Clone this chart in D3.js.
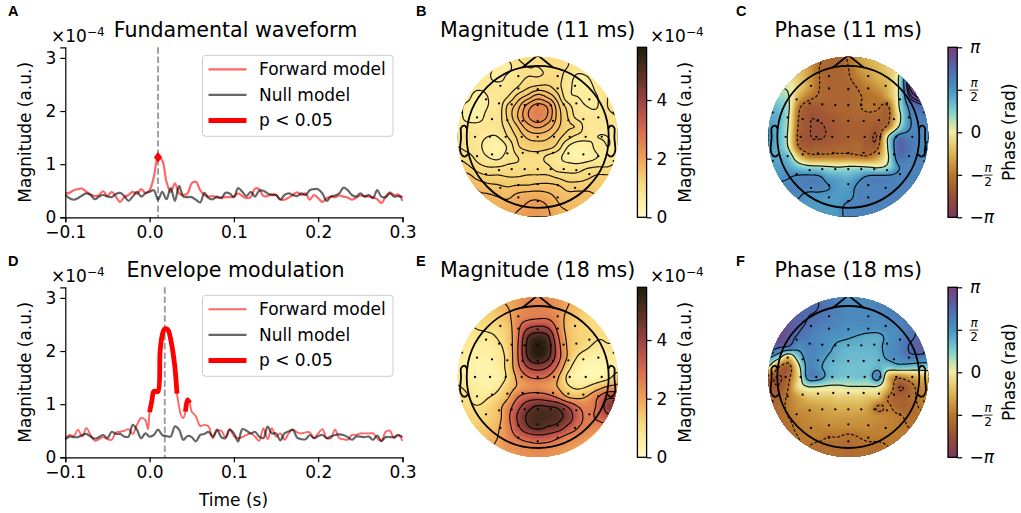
<!DOCTYPE html>
<html><head><meta charset="utf-8">
<script src="https://cdn.jsdelivr.net/npm/d3@7"></script>
<style>html,body{margin:0;padding:0;background:#fff}svg{display:block}text{font-family:"DejaVu Sans",sans-serif;fill:#000}</style>
</head><body><svg id="c" width="1021" height="513"></svg>
<script>
// ---------- line data (x 1e-4), t = -0.1 .. 0.3 step 0.005 unless noted
const forwardA=[.45,.46,.51,.53,.54,.48,.43,.40,.42,.49,.40,.48,.39,.29,.38,.42,.48,.44,.53,.46,.51,.76,1.13,1.07,.67,.48,.64,.45,.42,.45,.64,.67,.51,.42,.39,.40,.37,.37,.38,.38,.39,.45,.40,.36,.38,.54,.53,.40,.40,.43,.42,.34,.33,.37,.42,.47,.42,.45,.33,.42,.36,.29,.36,.39,.38,.41,.39,.37,.33,.37,.41,.40,.39,.38,.34,.27,.39,.47,.42,.43,.31];
const nullA=[.42,.36,.33,.36,.41,.45,.42,.34,.39,.42,.39,.38,.44,.46,.40,.31,.39,.48,.39,.45,.48,.51,.33,.48,.34,.55,.31,.59,.39,.38,.38,.33,.28,.46,.36,.34,.39,.36,.46,.45,.38,.55,.48,.40,.48,.39,.50,.50,.45,.42,.42,.33,.42,.45,.42,.40,.45,.42,.51,.53,.53,.45,.31,.39,.41,.45,.56,.51,.42,.39,.45,.39,.42,.36,.51,.39,.38,.45,.39,.40,.38];
const forwardDBefore=[.36,.42,.40,.52,.39,.55,.42,.31,.34,.38,.34,.33,.47,.48,.50,.53,.44,.61,.74,.70]; // t -0.1 .. -0.005
const forwardDPeak=[.85,1.05,1.24,1.24,1.24,2.0,2.3,2.41,2.42,2.38,2.22,2.0,1.7,1.2,.95,.78,.74,.86,1.08,1.02]; // t 0 .. 0.0475 step 0.0025
const forwardDAfter=[.86,.77,.59,.61,.58,.36,.50,.50,.38,.53,.40,.36,.38,.42,.45,.39,.31,.55,.34,.55,.39,.45,.33,.45,.52,.47,.45,.47,.47,.36,.45,.53,.36,.36,.52,.36,.34,.33,.42,.42,.45,.45,.45,.45,.36,.30,.48,.50,.36,.42,.31]; // t .05 .. .3
const nullD=[.34,.39,.38,.38,.42,.44,.39,.35,.38,.42,.36,.48,.44,.44,.39,.39,.61,.52,.36,.45,.39,.42,.52,.42,.40,.39,.58,.52,.33,.40,.38,.30,.42,.44,.48,.39,.52,.38,.36,.52,.45,.30,.53,.50,.45,.48,.39,.36,.58,.45,.45,.32,.45,.49,.52,.37,.34,.34,.42,.36,.40,.42,.36,.39,.42,.43,.42,.38,.33,.39,.39,.38,.39,.33,.41,.31,.38,.38,.38,.42,.38];
const sigA=[[.0085,.0115]], sigD=[[0,.0325],[.0425,.0475]];
const peakA=0.01, peakD=0.018;
const xTicks=[-.1,0,.1,.2,.3], yTicks=[0,1,2,3];
// ---------- scalp maps: rows front to back, columns left to right
const magB=[
[.9,.9,.9,.9,.8,.75,1.0,1.1,1.1,1.1,1.1,1.0,1.0,.9,.9,.9,.9],
[.9,.9,.9,.8,.65,.6,.9,1.0,1.0,1.05,1.1,1.0,.85,.9,.9,.9,.9],
[.9,.9,.85,.75,.6,.75,.9,1.0,1.0,1.05,1.1,.85,.65,.7,.9,.9,.9],
[.9,.9,.8,.8,.8,.8,1.0,1.2,1.3,1.3,1.1,.8,.6,.6,.8,1.0,1.0],
[.8,.8,.5,.7,.8,1.0,1.35,1.6,1.9,1.7,1.35,.8,.7,.65,.7,1.0,1.1],
[.8,.6,.5,.7,.8,1.3,1.65,2.2,2.5,2.3,1.6,1.15,.8,.7,.7,1.0,1.1],
[.8,.6,.55,.8,.85,1.3,1.75,2.3,2.6,2.3,1.65,1.25,.9,.8,.8,.9,1.0],
[.8,.8,.8,.8,.85,1.15,1.5,1.9,2.1,1.9,1.55,1.3,1.2,.8,.8,.8,.9],
[.9,.9,.8,.7,.7,1.0,1.3,1.55,1.6,1.55,1.35,1.1,.9,.8,.7,.7,.8],
[1.0,.9,.8,.55,.45,.75,1.2,1.35,1.4,1.35,1.15,.7,.5,.55,.8,.7,.8],
[1.2,1.1,.9,.7,.6,.85,1.0,1.1,1.1,.95,.8,.55,.4,.5,.7,.8,.9],
[1.4,1.3,1.1,1.0,1.0,1.05,1.05,1.05,1.1,1.05,.85,.85,.85,.95,1.0,1.0,1.1],
[1.6,1.6,1.4,1.3,1.3,1.25,1.25,1.3,1.3,1.3,1.2,1.1,1.1,1.2,1.3,1.3,1.3],
[1.8,1.8,1.7,1.6,1.55,1.5,1.55,1.55,1.6,1.6,1.55,1.4,1.4,1.4,1.4,1.4,1.4],
[1.9,1.9,1.8,1.8,1.75,1.7,1.85,1.95,1.95,1.85,1.7,1.6,1.6,1.6,1.5,1.5,1.5],
[1.9,1.9,1.9,1.85,1.85,1.9,2.0,2.1,2.2,2.05,1.8,1.7,1.65,1.6,1.6,1.6,1.6],
[1.9,1.9,1.9,1.9,1.9,2.0,2.1,2.2,2.2,2.1,1.9,1.8,1.7,1.6,1.6,1.6,1.6]];
const magE=[
[1.5,1.6,1.7,1.8,1.9,2.0,2.2,2.4,2.5,2.4,2.2,2.0,1.8,1.6,1.5,1.5,1.5],
[1.3,1.3,1.4,1.5,1.7,1.9,2.2,2.6,2.6,2.5,2.3,1.9,1.6,1.4,1.3,1.3,1.3],
[1.1,1.1,1.2,1.3,1.4,1.7,2.4,2.6,2.7,2.7,2.3,1.7,1.4,1.2,1.1,1.1,1.1],
[.9,.9,1.0,1.1,1.2,1.5,2.6,3.6,3.9,3.7,2.6,1.6,1.3,1.2,1.1,1.0,1.0],
[.8,.8,.8,.8,1.0,1.4,2.7,4.7,5.3,4.9,3.0,1.7,1.3,1.2,1.0,1.0,1.0],
[.7,.7,.6,.6,.8,1.3,2.8,5.0,5.9,5.3,3.3,1.8,1.3,1.0,.8,.9,.9],
[.7,.6,.5,.5,.7,1.2,2.8,4.8,5.6,5.0,3.3,1.8,.9,.6,.5,.7,.8],
[.7,.5,.4,.4,.6,1.2,2.6,3.8,4.2,3.8,2.7,1.3,.5,.3,.3,.5,.7],
[.8,.6,.4,.4,.5,1.1,2.1,2.8,3.0,2.8,2.0,.8,.4,.3,.4,.7,1.3],
[1.0,.8,.6,.5,.8,1.4,2.0,2.3,2.4,2.2,1.9,1.1,.8,1.0,1.5,2.0,2.2],
[1.3,1.0,.7,.9,1.2,1.8,2.8,3.3,3.4,3.2,2.7,1.9,1.7,2.0,2.8,3.6,3.6],
[1.3,1.1,1.0,1.2,1.6,2.4,3.5,4.4,4.9,4.8,4.6,3.8,2.9,2.6,3.0,4.2,4.4],
[1.3,1.3,1.2,1.3,1.6,2.6,3.9,4.9,5.2,5.2,5.0,4.4,3.2,2.7,3.0,3.5,3.7],
[1.3,1.3,1.4,1.5,1.8,2.5,3.6,4.6,5.0,4.7,4.4,3.6,2.9,2.6,2.5,2.6,2.6],
[1.4,1.4,1.5,1.7,1.9,2.4,2.9,3.3,3.5,3.4,3.0,2.6,2.4,2.2,2.1,2.1,2.1],
[1.5,1.5,1.6,1.8,2.0,2.3,2.4,2.5,2.6,2.5,2.4,2.2,2.1,2.0,1.9,1.9,1.9],
[1.6,1.6,1.7,1.9,2.0,2.2,2.3,2.3,2.4,2.3,2.2,2.1,2.0,1.9,1.8,1.8,1.8]];
const phaseC=[
[-.6,-.6,-.6,-.8,-1.1,-1.6,-1.8,-1.8,-1.7,-1.1,-.8,-.6,-.4,-.3,.5,1.2,1.5],
[-.3,-.3,-.4,-.6,-1.0,-1.7,-1.9,-1.9,-1.75,-1.2,-.9,-.7,-.4,-.2,1.8,2.4,2.6],
[-.2,-.2,-.3,-.5,-1.0,-1.7,-1.9,-1.9,-1.8,-1.4,-1.1,-.8,-.6,.3,2.7,3.0,3.1],
[.3,.3,.2,-.4,-1.0,-1.7,-1.9,-1.9,-1.9,-1.7,-1.4,-1.1,-.7,.3,2.8,3.1,3.1],
[.9,.7,.4,-.8,-1.5,-1.8,-1.9,-1.9,-1.9,-1.8,-1.65,-1.5,-.9,.3,2.4,3.0,3.1],
[1.3,1.0,.5,-1.5,-2.1,-2.1,-2.0,-1.9,-1.9,-1.8,-1.6,-1.7,-1.8,.2,1.8,2.3,2.5],
[1.4,1.2,.4,-1.7,-2.2,-2.2,-2.1,-2.0,-1.9,-1.9,-1.9,-1.9,-1.9,-.1,1.6,1.9,2.1],
[1.5,1.2,.3,-1.8,-2.2,-2.3,-2.2,-2.1,-2.0,-2.0,-2.0,-2.1,-1.5,.3,1.6,1.9,1.9],
[1.6,1.2,.2,-1.9,-2.2,-2.3,-2.2,-2.1,-2.0,-2.0,-2.1,-2.1,.4,2.0,2.0,1.9,1.8],
[1.5,1.2,.3,-1.7,-2.1,-2.0,-2.0,-1.9,-1.9,-1.8,-2.1,-1.8,.5,2.4,2.2,1.9,1.7],
[1.4,1.3,1.0,-.5,-1.4,-1.5,-1.5,-1.5,-1.5,-1.6,-1.6,-1.0,.3,2.2,2.0,1.9,1.7],
[1.5,1.5,1.4,.9,.6,.5,.4,.3,.4,.4,.3,.2,.6,1.7,1.85,1.9,1.9],
[1.6,1.6,1.7,1.85,1.9,1.85,1.4,1.3,1.2,1.5,1.85,1.9,1.9,1.9,1.9,2.0,2.1],
[1.9,1.9,1.9,1.9,1.9,1.9,1.78,1.5,1.5,1.85,1.9,1.9,1.9,1.9,1.9,2.1,2.2],
[1.9,1.9,1.9,1.78,1.6,1.6,1.55,1.5,1.6,1.9,1.9,1.9,1.9,1.9,1.9,2.0,2.1],
[1.85,1.8,1.75,1.6,1.5,1.5,1.5,1.6,1.9,1.9,1.9,1.9,1.9,1.9,1.9,1.9,1.9],
[1.8,1.8,1.7,1.6,1.5,1.5,1.5,1.6,1.9,1.9,1.9,1.9,1.9,1.9,1.9,1.9,1.9]];
const phaseF=[
[2.5,2.5,2.5,2.5,2.4,2.3,2.1,1.9,1.8,1.8,1.8,1.9,2.0,2.2,2.3,2.4,2.4],
[2.6,2.6,2.6,2.5,2.4,2.3,2.1,1.9,1.8,1.8,1.8,1.9,2.0,2.2,2.3,2.3,2.3],
[2.7,2.7,2.7,2.5,2.3,2.2,2.0,1.9,1.8,1.8,1.8,1.8,1.9,2.0,2.2,2.3,2.3],
[2.9,2.9,2.7,2.4,2.2,2.0,1.9,1.8,1.7,1.7,1.7,1.7,1.8,1.8,2.1,2.3,2.4],
[3.0,3.0,2.6,2.2,2.0,1.8,1.7,1.6,1.5,1.4,1.3,1.3,1.6,1.8,2.1,2.4,2.5],
[2.8,2.4,2.2,1.7,1.9,1.8,1.6,1.3,1.2,1.2,1.2,1.3,1.7,1.9,2.3,2.6,2.6],
[1.6,.8,-.5,.9,1.8,1.7,1.4,1.2,1.1,1.1,1.1,1.2,1.6,1.8,2.1,2.1,2.0],
[.3,-1.5,-2.0,.0,1.8,1.6,1.2,1.1,1.0,1.0,1.0,1.2,.9,1.1,1.0,.9,.9],
[-1.8,-2.3,-1.8,-.3,1.8,1.8,1.2,1.0,.9,1.0,1.0,1.8,-.7,-1.4,-1.1,-.8,-.6],
[-2.0,-2.2,-1.6,-.2,.3,.3,.2,.2,.3,.3,.3,.2,-.8,-2.2,-2.0,-1.4,-1.2],
[-1.9,-1.9,-1.5,-1.0,-.6,-.5,-.5,-.4,-.4,-.4,-.5,-.6,-1.6,-2.0,-1.9,-1.5,-1.4],
[-1.9,-1.8,-1.5,-1.2,-1.1,-1.0,-.9,-.8,-.8,-.8,-1.0,-1.7,-1.5,-1.9,-1.9,-1.6,-1.5],
[-1.9,-1.8,-1.6,-1.4,-1.3,-1.2,-1.1,-1.1,-1.1,-1.1,-1.2,-1.3,-1.4,-1.5,-1.7,-1.7,-1.6],
[-1.9,-1.8,-1.7,-1.5,-1.4,-1.4,-1.3,-1.3,-1.3,-1.3,-1.3,-1.4,-1.4,-1.5,-1.6,-1.6,-1.6],
[-1.8,-1.8,-1.7,-1.6,-1.5,-1.5,-1.6,-1.6,-1.7,-1.6,-1.5,-1.5,-1.5,-1.5,-1.6,-1.6,-1.6],
[-1.7,-1.7,-1.7,-1.6,-1.6,-1.7,-1.7,-1.7,-1.8,-1.7,-1.7,-1.7,-1.6,-1.6,-1.6,-1.6,-1.6],
[-1.7,-1.7,-1.7,-1.6,-1.6,-1.7,-1.7,-1.7,-1.8,-1.7,-1.7,-1.7,-1.6,-1.6,-1.6,-1.6,-1.6]];
// contour levels
const levelsB=[.7,1.0,1.25,1.5,1.75,2.05,2.35], levelsE=[.95,1.9,2.85,3.8,4.75];
const levelsC=[-2.25,-1.75,.35,1.75,2.55,2.75,2.95], levelsF=[-2.25,-1.6,.35,1.45,2.3];
// sensors in head units (head radius 213)
const sensorX=[-58,60,-112,-58,0,60,112,-155,-116,-78,-39,0,39,78,116,155,-182,-137,-91,-45,0,46,92,137,182,-227,228,-188,-143,-96,-48,0,49,96,144,192,-182,-137,-91,-45,0,46,92,137,182,-227,228,-155,-116,-78,-39,0,39,78,116,155,-112,-58,0,60,112,-58,60,0];
const sensorY=[-182,-182,-153,-145,-143,-145,-153,-112,-100,-97,-95,-95,-95,-97,-100,-112,-58,-53,-50,-48,-48,-48,-50,-53,-58,-73,-73,0,0,0,0,0,0,0,0,0,58,53,50,48,48,48,50,53,58,73,73,112,100,97,97,97,97,97,100,112,153,145,142,145,153,182,182,193];
const earX=[.497,.510,.518,.5299,.5419,.54,.547,.532,.510,.489], earY=[.0555,.0775,.0783,.0746,.0555,-.0055,-.0932,-.1313,-.1384,-.1199];
const magStops=[0,.1,.2,.3,.4,.5,.6,.7,.8,.9,1], magColors=["#fffdc2","#fdeea0","#f8d87c","#f2b560","#e78f52","#d96f50","#bd5349","#95423d","#6b352d","#432a1c","#231c0d"];
const phaseStops=[-1,-.75,-.5,-.25,0,.1,.25,.5,.75,1], phaseColors=["#7b3b62","#994f36","#b9782e","#dcb655","#f3eda6","#c8e5b0","#80cfd3","#4a95c2","#5168ae","#7c3e78"];

const svg=d3.select("#c");
const magMax=5.8, PI=Math.PI, FS=17, TS=20.6;
const magColor=d3.scaleLinear().domain(magStops.map(d=>d*magMax)).range(magColors).clamp(true);
const phaseColor=d3.scaleLinear().domain(phaseStops.map(d=>d*PI)).range(phaseColors).clamp(true);

function txt(g,x,y,s,size,anchor="middle",extra={}){
  const t=g.append("text").attr("x",x).attr("y",y).attr("text-anchor",anchor).style("font-size",size+"px").text(s);
  for(const k in extra)t.style(k,extra[k]);return t;}
function sci(x,y){const t=svg.append("text").attr("x",x).attr("y",y).style("font-size",FS+"px");
  t.append("tspan").text("×10");t.append("tspan").attr("dy",-6.5).style("font-size","12px").text("−4");}

function lineChart(o){
  const x=d3.scaleLinear().domain([-.1,.3]).range([65.3,402.5]);
  const y=d3.scaleLinear().domain([0,3.2]).range([o.y0,o.y0-170]);
  const g=svg.append("g");
  const line=d3.line().x(d=>x(d[0])).y(d=>y(d[1])).curve(d3.curveCatmullRom.alpha(.5));
  g.append("path").attr("d",`M${x(o.peak)},${y(3.2)}V${y(0)}`).attr("stroke","#999").attr("stroke-width",1.8).attr("stroke-dasharray","6.5,2.8").attr("fill","none");
  g.append("path").attr("d",line(o.fwd)).attr("stroke","#f00").attr("stroke-opacity",.6).attr("stroke-width",o.fw).attr("fill","none");
  g.append("path").attr("d",line(o.nul)).attr("stroke","#000").attr("stroke-opacity",.6).attr("stroke-width",2.2).attr("fill","none");
  o.sig.forEach(([a,b])=>{const seg=o.fwd.filter(d=>d[0]>=a-1e-6&&d[0]<=b+1e-6);
    if(seg.length>1)g.append("path").attr("d",line(seg)).attr("stroke","#f00").attr("stroke-width",4.8).attr("fill","none");});
  if(o.marker)g.append("path").attr("transform",`translate(${x(o.marker[0])},${y(o.marker[1])}) scale(1.35,1)`).attr("d",d3.symbol(d3.symbolDiamond,32)()).attr("fill","#f00");
  const ax=g.append("g").attr("transform",`translate(0,${o.y0})`).call(d3.axisBottom(x).tickValues(xTicks).tickFormat(d3.format(".1f")).tickSize(5).tickPadding(4));
  const ay=g.append("g").attr("transform","translate(65.3,0)").call(d3.axisLeft(y).tickValues(yTicks).tickFormat(d3.format("d")).tickSize(5).tickPadding(4));
  [ax,ay].forEach(a=>{a.selectAll("text").style("font-size",FS+"px").style("font-family","DejaVu Sans");a.selectAll("path,line").attr("stroke","#000").attr("stroke-width",1.2);});
  txt(g,235.5,o.y0-170-10,o.title,TS);
  sci(51,o.y0-175);
  txt(g,0,0,"Magnitude (a.u.)",FS).attr("transform",`translate(31,${o.y0-85}) rotate(-90)`);
  // legend
  const ly=o.y0-162, L=g.append("g").attr("transform",`translate(202.5,${ly})`);
  L.append("rect").attr("width",190.5).attr("height",81).attr("rx",3).attr("fill","#fff").attr("fill-opacity",.8).attr("stroke","#ccc").attr("stroke-width",1);
  [["Forward model","#f00",.6,o.fw],["Null model","#000",.6,2.2],["p < 0.05","#f00",1,4.8]].forEach((d,i)=>{
    const yy=14+25.6*i;
    L.append("line").attr("x1",6).attr("x2",44).attr("y1",yy).attr("y2",yy).attr("stroke",d[1]).attr("stroke-opacity",d[2]).attr("stroke-width",d[3]);
    txt(L,56.5,yy+6,d[0],FS,"start");});
}
const fullTime=i=>-.1+i*.005;
const pairs=a=>a.map((v,i)=>[fullTime(i),v]);
const fwdD=[...forwardDBefore.map((v,i)=>[fullTime(i),v]),[-.002,.53],...forwardDPeak.map((v,i)=>[i*.0025,v]),...forwardDAfter.map((v,i)=>[.05+i*.005,v])];
lineChart({y0:217.3,peak:peakA,fwd:pairs(forwardA),nul:pairs(nullA),sig:sigA,marker:[.01,1.13],fw:2.2,title:"Fundamental waveform"});
lineChart({y0:457.3,peak:peakD,fwd:fwdD,nul:pairs(nullD),sig:sigD,fw:1.9,title:"Envelope modulation"});
txt(svg,233.5,506,"Time (s)",FS);

// bicubic upsampling of a map
function upsample(m,f){
  const n=m.length,N=(n-1)*f+1,o=new Float64Array(N*N);
  const cr=(a,b,c,d,t)=>.5*((2*b)+(c-a)*t+(2*a-5*b+4*c-d)*t*t+(3*b-a-3*c+d)*t*t*t);
  const at=(r,c)=>m[Math.max(0,Math.min(n-1,r))][Math.max(0,Math.min(n-1,c))];
  for(let j=0;j<N;j++)for(let i=0;i<N;i++){
    const gy=j/f,gx=i/f,r=Math.min(n-2,Math.floor(gy)),c=Math.min(n-2,Math.floor(gx)),ty=gy-r,tx=gx-c,v=[];
    for(let q=-1;q<3;q++)v.push(cr(at(r+q,c-1),at(r+q,c),at(r+q,c+1),at(r+q,c+2),tx));
    o[j*N+i]=cr(v[0],v[1],v[2],v[3],ty);}
  return {values:o,N};
}
let clipN=0;
function topo(o){
  const sx=d3.scaleLinear().domain([-240,240]).range([o.cx-80,o.cx+80]);
  const sy=d3.scaleLinear().domain([-240,240]).range([o.cy-80,o.cy+80]);
  const {values,N}=upsample(o.map,10);
  const gx=d3.scaleLinear().domain([.5,N-.5]).range([o.cx-80,o.cx+80]);
  const gy=d3.scaleLinear().domain([.5,N-.5]).range([o.cy-80,o.cy+80]);
  const path=d3.geoPath(d3.geoTransform({point(x,y){this.stream.point(gx(x),gy(y));}}));
  const id="clip"+(clipN++);
  svg.append("clipPath").attr("id",id).append("circle").attr("cx",o.cx).attr("cy",o.cy).attr("r",80);
  const g=svg.append("g").attr("clip-path",`url(#${id})`);
  g.append("circle").attr("cx",o.cx).attr("cy",o.cy).attr("r",80).attr("fill",o.color(o.lo));
  const th=d3.range(o.lo,o.hi,(o.hi-o.lo)/110);
  const cs=d3.contours().size([N,N]).thresholds(th)(values);
  g.selectAll("path.f").data(cs).join("path").attr("class","f").attr("d",path).attr("fill",d=>o.color(d.value));
  const ls=d3.contours().size([N,N]).thresholds(o.levels)(values);
  g.selectAll("path.l").data(ls).join("path").attr("class","l").attr("d",path).attr("fill","none").attr("stroke","#000").attr("stroke-opacity",.9).attr("stroke-width",1.2).attr("stroke-dasharray",d=>d.value<0?"3,1.8":null);
  g.selectAll("circle.s").data(sensorX).join("circle").attr("class","s").attr("cx",d=>sx(d)).attr("cy",(d,i)=>sy(sensorY[i])).attr("r",1.15).attr("fill","#000");
  const hs=svg.append("g").attr("clip-path",`url(#${id})`).attr("fill","none").attr("stroke","#000").attr("stroke-width",1.8);
  hs.append("circle").attr("cx",sx(0)).attr("cy",sy(0)).attr("r",sx(213)-sx(0));
  hs.append("path").attr("d",d3.line()([[sx(-47),sy(-207)],[sx(0),sy(-245)],[sx(47),sy(-207)]]));
  [1,-1].forEach(side=>hs.append("path").attr("d",d3.line().curve(d3.curveCardinal.tension(.2))(earX.map((e,i)=>[sx(side*e*426),sy(-earY[i]*426)]))));
  txt(svg,o.cx,o.cy-99.7,o.title,TS);
}
topo({cx:537.7,cy:136.8,map:magB,color:magColor,lo:0,hi:5.8,levels:levelsB,title:"Magnitude (11 ms)"});
topo({cx:537.7,cy:377,map:magE,color:magColor,lo:0,hi:5.8,levels:levelsE,title:"Magnitude (18 ms)"});
topo({cx:848.3,cy:136.8,map:phaseC,color:phaseColor,lo:-PI,hi:PI,levels:levelsC,title:"Phase (11 ms)"});
topo({cx:848.3,cy:377,map:phaseF,color:phaseColor,lo:-PI,hi:PI,levels:levelsF,title:"Phase (18 ms)"});

// colour bars
function colorbar(o){
  const y=d3.scaleLinear().domain(o.domain).range([o.y0,o.y0-170]);
  const id="grad"+o.id;
  const lg=svg.append("defs").append("linearGradient").attr("id",id).attr("x1",0).attr("x2",0).attr("y1",1).attr("y2",0);
  d3.range(0,1.0001,.02).forEach(f=>{const v=o.domain[0]+f*(o.domain[1]-o.domain[0]);lg.append("stop").attr("offset",f).attr("stop-color",o.color(v));});
  svg.append("rect").attr("x",o.x).attr("y",o.y0-170).attr("width",9.2).attr("height",170).attr("fill",`url(#${id})`).attr("stroke","#000").attr("stroke-width",1.3);
  const ax=svg.append("g").attr("transform",`translate(${o.x+9.2},0)`).call(d3.axisRight(y).tickValues(o.ticks).tickFormat(o.fmt||(d=>d)).tickSize(5).tickPadding(5));
  ax.select(".domain").remove();
  ax.selectAll("line").attr("stroke","#000").attr("stroke-width",1.2);
  ax.selectAll("text").style("font-size",FS+"px").style("font-family","DejaVu Sans");
  return {y,ax};
}
[217.3,457.3].forEach((y0,i)=>{
  colorbar({id:"m"+i,x:637.4,y0,domain:[0,5.8],color:magColor,ticks:[0,2,4]});
  sci(650,y0-175);
  txt(svg,0,0,"Magnitude (a.u.)",FS).attr("transform",`translate(691,${y0-85}) rotate(-90)`);
});
const phaseTicks=[-PI,-PI/2,0,PI/2,PI];
[217.3,457.3].forEach((y0,i)=>{
  const {y,ax}=colorbar({id:"p"+i,x:948,y0,domain:[-PI,PI],color:phaseColor,ticks:phaseTicks,fmt:()=>""});
  txt(svg,0,0,"Phase (rad)",FS).attr("transform",`translate(1014.5,${y0-85}) rotate(-90)`);
  const X=970;
  const it={"font-style":"italic"};
  txt(svg,X,y(PI)+6,"π",FS,"start",it);
  txt(svg,X-0.5,y(-PI)+6,"−π",FS,"start",it);
  txt(svg,X+0.5,y(0)+6,"0",FS,"start");
  [[PI/2,X],[-PI/2,X+14]].forEach(([v,xx])=>{
    txt(svg,xx+4,y(v)-2.5,"π",12,"middle",it);
    svg.append("line").attr("x1",xx-.5).attr("x2",xx+8.5).attr("y1",y(v)+.3).attr("y2",y(v)+.3).attr("stroke","#000").attr("stroke-width",.8);
    txt(svg,xx+4,y(v)+11.5,"2",12);
  });
  txt(svg,X,y(-PI/2)+6,"−",FS,"start");
});
// panel letters
[["A",8,16],["B",416,16],["C",736,16],["D",8,266],["E",416,266],["F",736,266]].forEach(d=>txt(svg,d[1],d[2],d[0],14.5,"start",{"font-weight":"bold","font-family":"Liberation Sans"}));
</script></body></html>
